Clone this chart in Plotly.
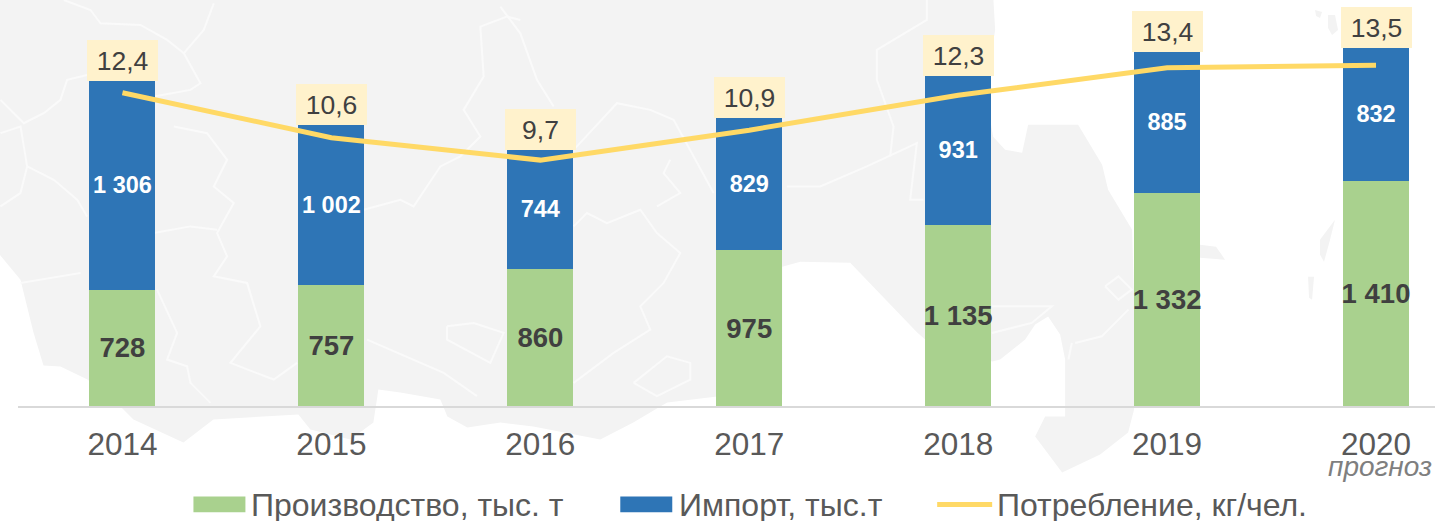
import plotly.graph_objects as go

years = ["2014", "2015", "2016", "2017", "2018", "2019", "2020"]
production = [728, 757, 860, 975, 1135, 1332, 1410]
imports = [1306, 1002, 744, 829, 931, 885, 832]
consumption = [12.4, 10.6, 9.7, 10.9, 12.3, 13.4, 13.5]
legend_names = ["Производство, тыс. т", "Импорт, тыс.т", "Потребление, кг/чел."]
forecast_note = "прогноз"

GREEN, BLUE, YELLOW, BOX = "#a9d18e", "#2e75b6", "#ffd966", "#fff2cc"
L, R, BASE = 17.5, 1435.0, 406.5
MAP_FILL = "#f3f3f3"

def fx(px): return (px - L) / (R - L)
def fy(py): return (BASE - py) / BASE
def path(pts, close=False):
    s = "M" + " L".join(f"{fx(x):.5f},{fy(y):.5f}" for x, y in pts)
    return s + (" Z" if close else "")
def z(ox, pts):
    return [(ox + a / 3, b / 3) for a, b in pts]
def thousands(v):
    return f"{v:,}".replace(",", " ")
def comma(v):
    return f"{v:.1f}".replace(".", ",")

# Decorative background map (light land mass with pale region borders)
land = [(-5,-5),(993,-5),(995,30),(990,60),(990,120),(993,137),(1005,150),(1022,153),(1028,125),(1078,125),
        (1102,165),(1108,190),(1132,230),(1134,300),(1134,410),(1128,433),(1100,455),(1062,473),(1035,437),(1045,417),
        (1065,417),(1065,360),(1060,335),(1048,317),(1035,325),(1025,340),(1000,360),(992,362),(925,340),(917,333),
        (850,263),(800,262),(782,267),(782,395),(717,397),(667,403),(660,407),(633,423),(600,440),(533,427),
        (500,423),(467,428),(447,417),(440,400),(400,393),(378,390),(373,423),(350,440),(310,430),(298,415),
        (213,420),(183,443),(133,420),(120,407),(87,380),(60,367),(43,366),(33,333),(20,280),(-5,250)]
islands = [[(1328,15),(1335,15),(1338,30),(1332,35),(1328,28)],
           [(1315,10),(1322,12),(1320,18),(1316,16)],
           [(1320,240),(1335,220),(1330,240),(1324,262),(1320,255)],
           [(1308,277),(1314,277),(1312,300),(1309,298)],
           [(1200,245),(1216,247),(1225,260),(1200,258)]]
borders = [z(0, p) for p in [
    [(190,0),(270,30),(300,70),(420,75),(500,120),(550,160),(600,250),(570,270),(460,290)],
    [(640,10),(610,90),(550,160)],
    [(0,300),(70,370),(130,340),(180,300),(200,240),(260,225)],
    [(0,400),(60,380),(80,500),(60,580),(0,620)],
    [(80,500),(160,540),(230,600),(260,650)],
    [(520,380),(620,400),(680,480),(640,560),(700,610),(650,700),(680,770),(640,830),(740,850),(780,980),(690,1090),(820,1140),(890,1090)],
    [(460,700),(570,680),(650,690)],
    [(60,850),(240,820)],
    [(470,870),(530,1000),(500,1080),(560,1100),(570,1150),(630,1210)],
    [(1560,60),(1520,50),(1440,80),(1450,230),(1390,330),(1440,410),(1380,470),(1320,500),(1240,620),(1200,600),(1090,630)],
    [(1100,1020),(1330,1120),(1430,1190)],
    [(1340,980),(1420,970),(1510,1000),(1470,1090),(1340,1020),(1340,980)],
]] + [z(500, p) for p in [
    [(0,20),(60,100),(110,240),(160,320)],
    [(220,450),(350,310),(450,330),(520,360),(640,580)],
    [(220,680),(260,640),(320,670),(420,630),(470,700),(540,760),(490,850),(420,920),(450,990),(340,1060),(220,1150)],
    [(400,1150),(500,1070),(570,1090),(570,1140),(470,1190),(400,1150)],
    [(510,480),(490,520),(540,580),(470,620)],
    [(860,560),(960,560),(1100,500),(1250,430),(1230,600),(1270,600)],
    [(1280,0),(1280,60),(1130,150),(1130,240),(1180,380),(1170,470)],
]] + [z(915, p) for p in [
    [(230,920),(410,920),(350,970),(230,1000)],
    [(570,860),(610,830),(650,870),(610,900),(570,860)],
    [(480,1030),(560,1010),(640,930)],
    [(470,1030),(460,1080)],
]]

shapes = [dict(type="path", xref="paper", yref="paper", path=path(land, True), fillcolor=MAP_FILL,
               line=dict(width=0), layer="below")]
shapes += [dict(type="path", xref="paper", yref="paper", path=path(p, True), fillcolor=MAP_FILL,
                line=dict(width=0), layer="below") for p in islands]
shapes += [dict(type="path", xref="paper", yref="paper", path=path(p), line=dict(color="#fafafa", width=2),
                layer="below") for p in borders]

fig = go.Figure()
fig.add_trace(go.Bar(x=years, y=production, name=legend_names[0], marker=dict(color=GREEN, line=dict(width=0)),
                     width=0.316, text=[thousands(v) for v in production], textposition="inside",
                     insidetextanchor="middle", textangle=0, constraintext="none", cliponaxis=False,
                     textfont=dict(family="Liberation Sans", size=27.5, color="#404040", weight="bold")))
fig.add_trace(go.Bar(x=years, y=imports, name=legend_names[1], marker=dict(color=BLUE, line=dict(width=0)),
                     width=0.316, text=[thousands(v) for v in imports], textposition="inside",
                     insidetextanchor="middle", textangle=0, constraintext="none", cliponaxis=False,
                     textfont=dict(family="Liberation Sans", size=23.5, color="#ffffff", weight="bold")))
fig.add_trace(go.Scatter(x=years, y=consumption, name=legend_names[2], mode="lines", yaxis="y2",
                         line=dict(color=YELLOW, width=5)))

anns = []
for i, (a, b, c) in enumerate(zip(production, imports, consumption)):
    anns.append(dict(x=i, y=a + b, xref="x", yref="y", yanchor="bottom", xanchor="center", text=comma(c),
                     showarrow=False, bgcolor=BOX, width=71, height=41, borderpad=0, borderwidth=0,
                     font=dict(family="Liberation Sans", size=26.5, color="#404040")))
anns.append(dict(x=fx(1380), y=fy(467), xref="paper", yref="paper", text=forecast_note, showarrow=False,
                 xanchor="center", yanchor="middle",
                 font=dict(family="Liberation Sans", size=28, color="#7f7f7f", style="italic")))

# Legend with long swatches
LEG_Y = 505.5
for name, tx in zip(legend_names, (249.5, 677.5, 995.5)):
    anns.append(dict(x=fx(tx), y=fy(LEG_Y), xref="paper", yref="paper", text=name, showarrow=False,
                     xanchor="left", yanchor="middle", borderpad=0,
                     font=dict(family="Liberation Sans", size=32, color="#595959")))
for x0, x1, col in ((193, 245, GREEN), (620, 672, BLUE)):
    shapes.append(dict(type="rect", xref="paper", yref="paper", x0=fx(x0), x1=fx(x1), y0=fy(513), y1=fy(497),
                       fillcolor=col, line=dict(width=0)))
shapes.append(dict(type="line", xref="paper", yref="paper", x0=fx(937), x1=fx(992), y0=fy(505), y1=fy(505),
                   line=dict(color=YELLOW, width=5)))

fig.update_layout(
    width=1435, height=521, autosize=False, barmode="stack", showlegend=False,
    margin=dict(l=L, r=0, t=0, b=521 - BASE, pad=0),
    paper_bgcolor="#ffffff", plot_bgcolor="rgba(0,0,0,0)",
    font=dict(family="Liberation Sans"),
    shapes=shapes, annotations=anns,
    xaxis=dict(type="category", range=[-0.5, (R - L) / 209 - 0.5], showgrid=False, zeroline=False,
               showline=True, linecolor="#d9d9d9", linewidth=2, ticks="outside", ticklen=9,
               tickcolor="rgba(0,0,0,0)", tickfont=dict(family="Liberation Sans", size=31.5, color="#595959")),
    yaxis=dict(range=[0, BASE / 0.16], visible=False, showgrid=False, zeroline=False, fixedrange=True),
    yaxis2=dict(range=[-0.16, 16.12], overlaying="y", visible=False, showgrid=False, zeroline=False),
)
fig.write_html("out.html", config=dict(displayModeBar=False),
               post_script="document.body.style.margin='0';document.documentElement.style.overflow='hidden';")
